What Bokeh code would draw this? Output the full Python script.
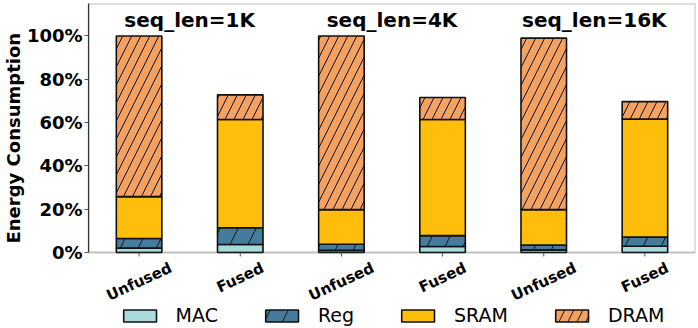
import numpy as np
from bokeh.plotting import figure
from bokeh.models import FixedTicker, Legend, LegendItem, Range1d, BoxAnnotation, Title
from bokeh.core.properties import value
from bokeh.embed import file_html
from bokeh.resources import INLINE

# ---- data (percent of unfused total energy) ----
bar_labels = ["Unfused", "Fused", "Unfused", "Fused", "Unfused", "Fused"]
group_titles = ["seq_len=1K", "seq_len=4K", "seq_len=16K"]
components = ["MAC", "Reg", "SRAM", "DRAM"]
mac = [2.0, 3.7, 1.0, 2.8, 1.2, 2.9]
reg = [4.5, 7.7, 2.8, 5.0, 2.2, 4.2]
sram = [19.3, 50.0, 16.0, 53.6, 16.4, 54.5]
dram = [74.2, 11.4, 80.2, 10.2, 79.2, 8.1]
y_ticks = [0, 20, 40, 60, 80, 100]

colors = ["#a8dadc", "#457b9d", "#ffbe0b", "#f4a261"]
hatches = [" ", "/", " ", "/"]
hatch_scales = [12, 36, 12, 18]

FONT = "DejaVu Sans"
W, H = 698, 328
TOP_BORDER = 3
PLOT_PX = 249            # pixel height of the 0..Y_MAX data area
Y_MAX = 115
ppu = PLOT_PX / Y_MAX    # pixels per percent
frame_h = H - TOP_BORDER
y_min = Y_MAX - frame_h / ppu   # room below zero for labels and legend

x = np.arange(len(bar_labels))
p = figure(width=W, height=H, output_backend="svg", toolbar_location=None,
           x_axis_location=None,
           x_range=Range1d(-0.5, len(bar_labels) - 0.5), y_range=Range1d(y_min, Y_MAX),
           min_border_top=TOP_BORDER, min_border_right=3, min_border_left=1, min_border_bottom=0)
p.xgrid.visible = False
p.ygrid.visible = False
p.outline_line_color = None
p.background_fill_color = "white"
p.border_fill_color = "white"

series = [mac, reg, sram, dram]
bottom = np.zeros(len(x))
renderers = []
for vals, col, hp, hs in zip(series, colors, hatches, hatch_scales):
    vals = np.array(vals)
    top = bottom + vals
    r = p.vbar(x=x, bottom=bottom, top=top, width=0.45, fill_color=col,
               line_color="#111111", line_width=1.6,
               hatch_pattern=hp, hatch_color="#111111", hatch_scale=hs, hatch_weight=1)
    renderers.append(r)
    bottom = top

# axes box (spines)
p.add_layout(BoxAnnotation(left=-0.5, right=len(bar_labels) - 0.5, bottom=0, top=Y_MAX,
                           fill_alpha=0, line_color="#333333", line_width=2))

# x ticks
p.segment(x0=x, x1=x, y0=[0] * len(x), y1=[-4 / ppu] * len(x), line_color="#555555", line_width=1)

# group titles
p.text(x=[0.5, 2.5, 4.5], y=[107.2] * 3, text=group_titles,
       text_font=value(FONT), text_font_style="bold", text_font_size="20px",
       text_align="center", text_baseline="alphabetic", text_color="black")

# rotated, centred category labels under the ticks
angle = np.deg2rad(25)
est_w = np.array([70 if lab == "Unfused" else 51 for lab in bar_labels])
off_px = 7.5 + 0.5 * (est_w * np.sin(angle) + 15 * np.cos(angle))
p.text(x=x, y=-off_px / ppu, text=bar_labels, angle=angle,
       text_font=value(FONT), text_font_style="bold", text_font_size="15px",
       text_align="center", text_baseline="middle", text_color="black")

# y axis
yax = p.yaxis[0]
yax.bounds = (0, Y_MAX)
yax.ticker = FixedTicker(ticks=y_ticks)
yax.major_label_overrides = {t: f"{t}%" for t in y_ticks}
yax.major_label_text_font = FONT
yax.major_label_text_font_style = "bold"
yax.major_label_text_font_size = "18px"
yax.major_label_text_color = "black"
yax.axis_line_color = "#333333"
yax.axis_line_width = 1.2
yax.major_tick_line_color = "#555555"
yax.major_tick_out = 4
yax.major_tick_in = 0
yax.minor_tick_line_color = None
yax.major_label_standoff = 2

# y axis title, centred on the 0..115 data area rather than the full frame
p.add_layout(Title(text="Energy Consumption", align="left", offset=H - TOP_BORDER - PLOT_PX + 9,
                   text_font=FONT, text_font_style="bold", text_font_size="18px",
                   text_color="black", standoff=0), "left")

legend = Legend(items=[LegendItem(label=c, renderers=[r]) for c, r in zip(components, renderers)],
                orientation="horizontal", location="bottom_center",
                label_text_font=FONT, label_text_font_size="19px", label_text_color="black",
                glyph_width=41, glyph_height=15, label_standoff=16, spacing=43,
                padding=0, margin=2, border_line_color=None, background_fill_alpha=0)
p.add_layout(legend, "center")

open("out.html", "w").write(file_html(p, INLINE))
